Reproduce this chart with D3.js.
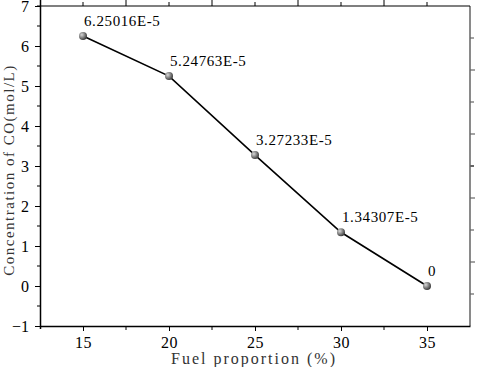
<style>body { margin: 0; } svg { display: block; }</style>
<script src="https://d3js.org/d3.v7.min.js"></script>

<svg width = 477 height = 367></svg>

<script>

  // data
  const fuel = [15, 20, 25, 30, 35];
  const co = [6.25016, 5.24763, 3.27233, 1.34307, 0];
  const pointLabels = ['6.25016E-5', '5.24763E-5', '3.27233E-5', '1.34307E-5', '0'];
  const xTicks = [15, 20, 25, 30, 35];
  const yTicks = [-1, 0, 1, 2, 3, 4, 5, 6, 7];

  const svg = d3.select('svg');
  const font = '"Liberation Serif", serif';

  svg.append('rect')
    .attr('width', 477)
    .attr('height', 367)
    .style('fill', 'white');

  const mLeft = 40, mRight = 470, mTop = 6, mBottom = 326;

  const x = d3.scaleLinear().domain([12.5, 37.5]).range([mLeft, mRight]);
  const y = d3.scaleLinear().domain([-1, 7]).range([mBottom, mTop]);

  // sphere marker
  const grad = svg.append('defs')
    .append('radialGradient')
    .attr('id', 'ball')
    .attr('cx', '35%')
    .attr('cy', '35%')
    .attr('r', '65%');
  grad.append('stop').attr('offset', '0%').attr('stop-color', '#d8d8d8');
  grad.append('stop').attr('offset', '100%').attr('stop-color', '#404040');

  // right axis (gray, ten divisions)
  svg.append('line')
    .attr('x1', mRight).attr('x2', mRight)
    .attr('y1', mTop).attr('y2', mBottom)
    .attr('stroke', '#8a8a8a')
    .attr('stroke-width', 2);
  for (let i = 1; i < 10; i++) {
    let yy = mTop + i * (mBottom - mTop) / 10;
    svg.append('line')
      .attr('x1', mRight).attr('x2', mRight + (i % 2 == 0 ? 5 : 4))
      .attr('y1', yy).attr('y2', yy)
      .attr('stroke', '#666')
      .attr('stroke-width', i == 5 ? 2 : 1.2);
  }

  // top axis
  svg.append('line')
    .attr('x1', mLeft - 3).attr('x2', mRight)
    .attr('y1', mTop).attr('y2', mTop)
    .attr('stroke', 'black')
    .attr('stroke-width', 1.2);
  for (let v = 15; v <= 35; v += 2.5) {
    let major = (v % 5) != 0;
    svg.append('line')
      .attr('x1', x(v)).attr('x2', x(v))
      .attr('y1', mTop).attr('y2', mTop - (major ? 6 : 4))
      .attr('stroke', 'black');
  }

  // bottom axis
  const xAxis = d3.axisBottom(x)
    .tickValues(xTicks)
    .tickSize(5)
    .tickSizeOuter(0)
    .tickPadding(6);
  const gx = svg.append('g')
    .attr('transform', `translate(0,${mBottom})`)
    .call(xAxis);
  gx.select('.domain').attr('stroke-width', 1.5);
  gx.selectAll('text')
    .style('font-family', font)
    .style('font-size', '16px')
    .attr('letter-spacing', '0.5px');
  for (let v = 17.5; v < 35; v += 5) {
    svg.append('line')
      .attr('x1', x(v)).attr('x2', x(v))
      .attr('y1', mBottom).attr('y2', mBottom + 4)
      .attr('stroke', 'black');
  }

  // left axis
  const yAxis = d3.axisLeft(y)
    .tickValues(yTicks)
    .tickFormat(d => d < 0 ? '\u2212' + Math.abs(d) : d)
    .tickSize(5)
    .tickSizeOuter(0)
    .tickPadding(6);
  const gy = svg.append('g')
    .attr('transform', `translate(${mLeft},0)`)
    .call(yAxis);
  gy.select('.domain').attr('stroke-width', 1.5).attr('d', `M0.5,${mBottom + 3}V0`);
  gy.selectAll('text')
    .style('font-family', font)
    .style('font-size', '16px');
  for (let v = -0.5; v < 7; v += 1) {
    svg.append('line')
      .attr('x1', mLeft).attr('x2', mLeft - 3)
      .attr('y1', y(v)).attr('y2', y(v))
      .attr('stroke', 'black');
  }

  // axis titles
  svg.append('text')
    .attr('x', 254)
    .attr('y', 364)
    .attr('text-anchor', 'middle')
    .attr('letter-spacing', '2px')
    .style('font-family', font)
    .style('font-size', '16px')
    .style('fill', '#333')
    .text('Fuel proportion (%)');

  svg.append('text')
    .attr('transform', 'translate(14,170) rotate(-90)')
    .attr('text-anchor', 'middle')
    .attr('letter-spacing', '1.5px')
    .style('font-family', font)
    .style('font-size', '15px')
    .style('fill', '#333')
    .text('Concentration of CO(mol/L)');

  // line
  const line = d3.line()
    .x((d, i) => x(fuel[i]))
    .y(d => y(d));
  svg.append('path')
    .datum(co)
    .attr('d', line)
    .attr('fill', 'none')
    .attr('stroke', 'black')
    .attr('stroke-width', 1.6);

  // points
  svg.selectAll('.pt')
    .data(co)
    .enter()
    .append('circle')
    .attr('class', 'pt')
    .attr('cx', (d, i) => x(fuel[i]))
    .attr('cy', d => y(d))
    .attr('r', 4)
    .style('fill', 'url(#ball)');

  // point labels
  svg.selectAll('.lbl')
    .data(co)
    .enter()
    .append('text')
    .attr('class', 'lbl')
    .attr('x', (d, i) => x(fuel[i]) + 1)
    .attr('y', d => y(d) - 10)
    .attr('letter-spacing', '0.6px')
    .style('font-family', font)
    .style('font-size', '15px')
    .text((d, i) => pointLabels[i]);

</script>
